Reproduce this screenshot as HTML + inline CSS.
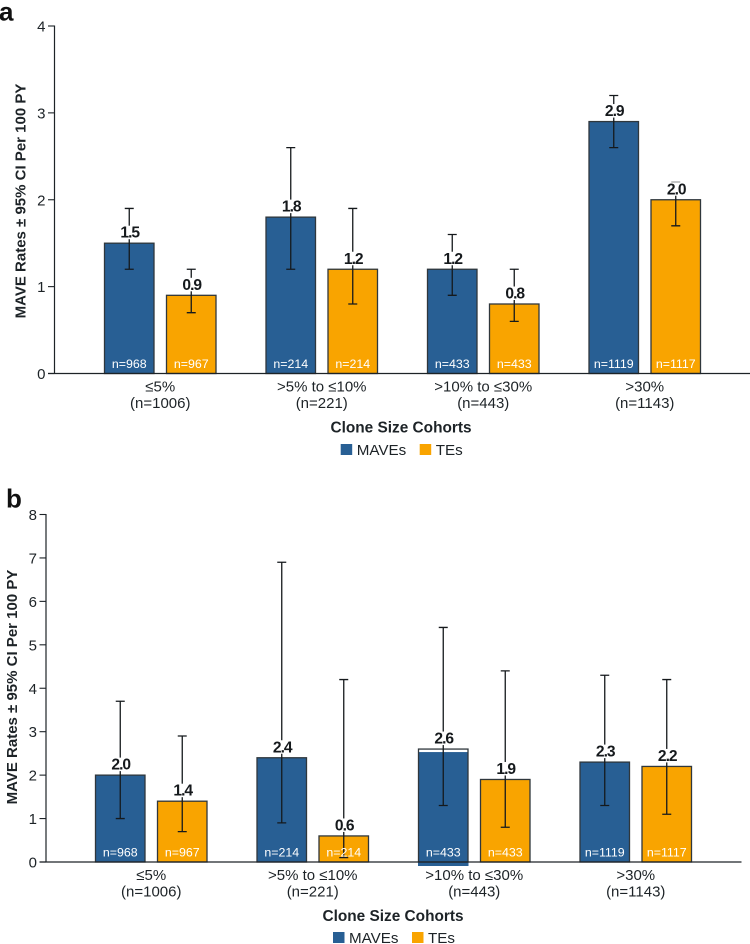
<!DOCTYPE html>
<html lang="en">
<head>
<meta charset="utf-8">
<title>MAVE rates by clone size cohort</title>
<style>
html,body{margin:0;padding:0;background:#fff;}
svg{display:block;font-family:"Liberation Sans",Arial,sans-serif;}
</style>
</head>
<body>
<svg id="figure" xmlns="http://www.w3.org/2000/svg" width="750" height="944" viewBox="0 0 750 944"></svg>
<script>
const categories = ["\u22645%", ">5% to \u226410%", ">10% to \u226430%", ">30%"];
const cohortTotals = ["(n=1006)", "(n=221)", "(n=443)", "(n=1143)"];
const mavesN = ["n=968", "n=214", "n=433", "n=1119"];
const tesN = ["n=967", "n=214", "n=433", "n=1117"];

const panelAMaves = [1.5, 1.8, 1.2, 2.9];
const panelAMavesLow = [1.2, 1.2, 0.9, 2.6];
const panelAMavesHigh = [1.9, 2.6, 1.6, 3.2];
const panelATes = [0.9, 1.2, 0.8, 2.0];
const panelATesLow = [0.7, 0.8, 0.6, 1.7];
const panelATesHigh = [1.2, 1.9, 1.2, 2.2];
const panelATicks = [0, 1, 2, 3, 4];

const panelBMaves = [2.0, 2.4, 2.6, 2.3];
const panelBMavesLow = [1.0, 0.9, 1.3, 1.3];
const panelBMavesHigh = [3.7, 6.9, 5.4, 4.3];
const panelBTes = [1.4, 0.6, 1.9, 2.2];
const panelBTesLow = [0.7, 0.1, 0.8, 1.1];
const panelBTesHigh = [2.9, 4.2, 4.4, 4.2];
const panelBTicks = [0, 1, 2, 3, 4, 5, 6, 7, 8];

const NS = "http://www.w3.org/2000/svg";
const svg = document.getElementById("figure");
const BLUE = "#285f94", ORANGE = "#f9a400", INK = "#1d2327";

function make(tag, attrs, parent, text) {
  const el = document.createElementNS(NS, tag);
  for (const k in attrs) el.setAttribute(k, attrs[k]);
  if (text !== undefined) el.textContent = text;
  parent.appendChild(el);
  return el;
}

function drawPanel(cfg) {
  const g = make("g", {}, svg);
  
  
  const yScale = v => cfg.y0 - (v / cfg.yMax) * (cfg.y0 - cfg.yTop);
  const groupX = i => cfg.firstX + i * cfg.step;

  const letter = make("text", {x: cfg.letterX, y: cfg.letterY, "font-size": 26, "font-weight": 700, fill: "#111"}, g, cfg.letter);
  
  

  const title = make("text", {x: cfg.titleX, y: cfg.titleY, "font-size": 15, "font-weight": 700, fill: INK, "text-anchor": "middle", transform: `rotate(-90 ${cfg.titleX} ${cfg.titleY})`}, g, "MAVE Rates \u00b1 95% CI Per 100 PY");
  
  

  cfg.ticks.forEach(t => {
    const y = yScale(t);
    const mark = make("line", {x1: cfg.axisX - 6.5, x2: cfg.axisX, y1: y, y2: y, stroke: INK, "stroke-width": 1.1}, g);
    
    
    const lab = make("text", {x: cfg.axisX - 9, y: y + 5.5, "font-size": 15, fill: INK, "text-anchor": "end"}, g, String(t));
    
    
  });

  const series = [
    {key: "maves", vals: cfg.maves, lo: cfg.mavesLow, hi: cfg.mavesHigh, n: mavesN, fill: BLUE, off: 0},
    {key: "tes", vals: cfg.tes, lo: cfg.tesLow, hi: cfg.tesHigh, n: tesN, fill: ORANGE, off: cfg.pairGap}
  ];

  series.forEach(s => {
    s.vals.forEach((v, i) => {
      const x = groupX(i) + s.off;
      const top = yScale(v);
      const misaligned = cfg.shiftFill && s.key === "maves" && i === 2;
      if (misaligned) {
        const f = make("rect", {x: x - 0.5, y: top + 3, width: cfg.barW + 1, height: cfg.y0 - top + 1, fill: s.fill}, g);
        
        
      }
      const bar = make("rect", {x: x, y: top, width: cfg.barW, height: cfg.y0 - top, fill: misaligned ? "none" : s.fill, stroke: "#2f373c", "stroke-width": 1.3}, g);
      
      
      const cx = x + cfg.barW / 2;
      const yHi = yScale(s.hi[i]), yLo = yScale(s.lo[i]);
      const err = make("path", {d: `M${cx - 4.5} ${yHi}H${cx + 4.5}M${cx} ${yHi}V${yLo}M${cx - 4.5} ${yLo}H${cx + 4.5}`, fill: "none", stroke: "#15191c", "stroke-width": 1.3}, g);
      
      
      const base = top - 5.5;
      const halo = make("rect", {x: cx - 11, y: base - 12, width: 22, height: 13.5, fill: "#fff"}, g);
      
      
      const val = make("text", {x: cx + 0.5, y: base, "font-size": 15.6, "font-weight": 700, "letter-spacing": "-1", fill: "#15191c", "text-anchor": "middle"}, g, v.toFixed(1));
      
      
      const nLab = make("text", {x: cx, y: cfg.y0 - 5.5, "font-size": 12.4, fill: "#fff", "text-anchor": "middle"}, g, s.n[i]);
      
      
    });
  });

  const yAxis = make("line", {x1: cfg.axisX, x2: cfg.axisX, y1: cfg.yTop - 0.5, y2: cfg.y0 + 0.5, stroke: INK, "stroke-width": 1.2}, g);
  
  
  const xAxis = make("line", {x1: cfg.axisX - 6.5, x2: cfg.axisEnd, y1: cfg.y0, y2: cfg.y0, stroke: INK, "stroke-width": 1.2}, g);
  
  

  categories.forEach((c, i) => {
    const cx = groupX(i) + (cfg.pairGap + cfg.barW) / 2;
    const a = make("text", {x: cx, y: cfg.y0 + 18, "font-size": 15, fill: INK, "text-anchor": "middle"}, g, c);
    
    
    const b = make("text", {x: cx, y: cfg.y0 + 34.5, "font-size": 15, fill: INK, "text-anchor": "middle"}, g, cohortTotals[i]);
    
    
  });

  const xt = make("text", {x: cfg.xTitleX, y: cfg.xTitleY, "font-size": 15.4, "font-weight": 700, fill: INK, "text-anchor": "middle"}, g, "Clone Size Cohorts");
  
  

  const ly = cfg.legendY;
  const s1 = make("rect", {x: cfg.legendX, y: ly - 11, width: 11.5, height: 11, fill: BLUE}, g);
  
  
  const t1 = make("text", {x: cfg.legendX + 16, y: ly, "font-size": 15.2, fill: INK}, g, "MAVEs");
  
  
  const s2 = make("rect", {x: cfg.legendX + 79, y: ly - 11, width: 11.5, height: 11, fill: ORANGE}, g);
  
  
  const t2 = make("text", {x: cfg.legendX + 95, y: ly, "font-size": 15.2, fill: INK}, g, "TEs");
  
  
}

drawPanel({
  name: "panel-a", letter: "a", letterX: -1, letterY: 20.5,
  titleX: 25.5, titleY: 201,
  axisX: 54.5, axisEnd: 750, y0: 373.5, yTop: 26, yMax: 4,
  firstX: 104.5, step: 161.5, pairGap: 62, barW: 49.5,
  ticks: panelATicks, maves: panelAMaves, mavesLow: panelAMavesLow, mavesHigh: panelAMavesHigh,
  tes: panelATes, tesLow: panelATesLow, tesHigh: panelATesHigh,
  xTitleX: 401, xTitleY: 432.5, legendX: 340.7, legendY: 455, shiftFill: false
});

drawPanel({
  name: "panel-b", letter: "b", letterX: 6, letterY: 507.5,
  titleX: 17, titleY: 687,
  axisX: 46, axisEnd: 741.5, y0: 862, yTop: 514.5, yMax: 8,
  firstX: 95.5, step: 161.5, pairGap: 62, barW: 49.5,
  ticks: panelBTicks, maves: panelBMaves, mavesLow: panelBMavesLow, mavesHigh: panelBMavesHigh,
  tes: panelBTes, tesLow: panelBTesLow, tesHigh: panelBTesHigh,
  xTitleX: 393, xTitleY: 921, legendX: 333, legendY: 943, shiftFill: true
});
</script>
</body>
</html>
